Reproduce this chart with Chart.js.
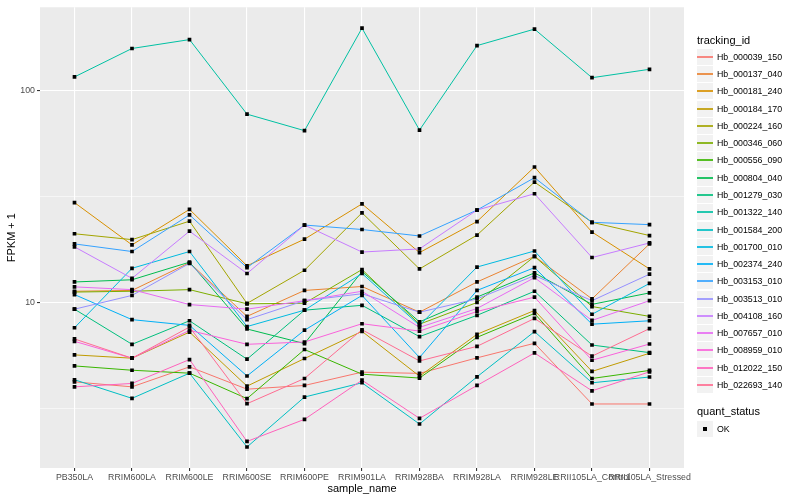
<!DOCTYPE html>
<html>
<head>
<meta charset="utf-8">
<script src="https://cdn.jsdelivr.net/npm/chart.js@4.4.1/dist/chart.umd.min.js"></script>
<style>
  html, body { margin: 0; padding: 0; background: #fff; }
  #wrap { position: relative; width: 800px; height: 500px; font-family: "Liberation Sans", Arial, sans-serif; }
  #chart { position: absolute; left: 0; top: 0; }
  .lg-title { position: absolute; font-size: 11px; color: #000; line-height: 13px; white-space: nowrap; }
  .lg-key { position: absolute; width: 16px; height: 16px; background: #F2F2F2; }
  .lg-line { position: absolute; left: 0; right: 0; top: 7px; height: 2px; opacity: 0.85; }
  .lg-dot { position: absolute; left: 6px; top: 6px; width: 4px; height: 4px; background: #000; }
  .lg-text { position: absolute; font-size: 8.8px; color: #000; line-height: 10px; white-space: nowrap; }
</style>
</head>
<body>
<div id="wrap">
  <canvas id="chart" width="800" height="500"></canvas>
  <div id="legend"></div>
</div>
<script>
'use strict';

// ---------------------------------------------------------------------------
// Data (FPKM + 1)
// ---------------------------------------------------------------------------
const samples = ['PB350LA', 'RRIM600LA', 'RRIM600LE', 'RRIM600SE', 'RRIM600PE', 'RRIM901LA',
  'RRIM928BA', 'RRIM928LA', 'RRIM928LE', 'RRII105LA_Control', 'RRII105LA_Stressed'];

const trackingIds = ['Hb_000039_150', 'Hb_000137_040', 'Hb_000181_240', 'Hb_000184_170',
  'Hb_000224_160', 'Hb_000346_060', 'Hb_000556_090', 'Hb_000804_040', 'Hb_001279_030',
  'Hb_001322_140', 'Hb_001584_200', 'Hb_001700_010', 'Hb_002374_240', 'Hb_003153_010',
  'Hb_003513_010', 'Hb_004108_160', 'Hb_007657_010', 'Hb_008959_010', 'Hb_012022_150',
  'Hb_022693_140'];

// ggplot hue palette, 20 levels
const colours = ['#F8766D', '#EA8331', '#D89000', '#C09B00', '#A3A500', '#7CAE00', '#39B600',
  '#00BB4E', '#00BF7D', '#00C1A3', '#00BFC4', '#00BAE0', '#00B0F6', '#35A2FF', '#9590FF',
  '#C77CFF', '#E76BF3', '#FA62DB', '#FF62BC', '#FF6C91'];

const hb000039_150 = [4.22, 4.00, 4.97, 3.90, 4.06, 4.69, 4.63, 5.48, 6.42, 3.32, 3.32];
const hb000137_040 = [11.3, 11.4, 15.4, 8.6, 11.4, 11.9, 9.0, 12.5, 16.5, 10.4, 18.9];
const hb000181_240 = [29.6, 18.7, 27.5, 14.9, 19.9, 29.2, 17.2, 24.1, 43.6, 21.5, 14.4];
const hb000184_170 = [5.66, 5.46, 7.25, 4.03, 5.44, 7.31, 4.49, 7.08, 9.17, 4.73, 5.76];
const hb000224_160 = [21.1, 19.8, 24.2, 9.9, 14.2, 26.5, 14.4, 20.8, 37.0, 23.9, 20.7];
const hb000346_060 = [11.2, 11.3, 11.5, 9.86, 9.92, 14.3, 7.9, 10.0, 16.5, 9.57, 8.6];
const hb000556_090 = [5.02, 4.79, 4.64, 3.52, 6.00, 4.59, 4.40, 6.85, 8.88, 4.38, 4.78];
const hb000804_040 = [12.5, 12.8, 15.5, 7.5, 6.4, 14.0, 8.1, 10.6, 13.8, 9.8, 11.1];
const hb001279_030 = [9.3, 6.35, 8.2, 5.4, 9.2, 9.7, 6.9, 8.7, 11.3, 6.3, 5.8];
const hb001322_140 = [116, 158, 174, 77.4, 64.7, 197, 65.1, 163, 195, 115, 126];
const hb001584_200 = [4.32, 3.53, 4.64, 2.08, 3.58, 4.18, 2.67, 4.46, 7.29, 4.18, 4.45];
const hb001700_010 = [7.6, 14.5, 17.4, 7.7, 9.2, 13.7, 7.8, 14.7, 17.5, 8.8, 12.3];
const hb002374_240 = [10.9, 8.3, 7.8, 4.5, 7.4, 10.8, 5.5, 11.4, 14.6, 7.9, 8.2];
const hb003153_010 = [18.9, 17.4, 25.9, 14.6, 23.2, 22.1, 20.6, 27.3, 38.8, 23.9, 23.3];
const hb003513_010 = [9.3, 10.8, 15.3, 8.3, 10.2, 11.0, 9.0, 10.4, 13.4, 10.2, 13.6];
const hb004108_160 = [18.3, 13.0, 21.7, 13.7, 23.2, 17.3, 17.9, 27.3, 32.6, 16.3, 19.1];
const hb007657_010 = [11.85, 11.5, 9.78, 9.3, 10.2, 11.3, 7.63, 9.37, 13.1, 8.23, 10.2];
const hb008959_010 = [6.56, 5.46, 7.39, 6.35, 6.51, 7.94, 7.33, 9.07, 10.6, 5.34, 6.37];
const hb012022_150 = [4.0, 4.15, 5.38, 2.21, 2.81, 4.30, 2.84, 4.06, 5.78, 3.83, 4.71];
const hb022693_140 = [6.73, 5.46, 7.66, 3.33, 4.38, 7.44, 5.30, 6.21, 8.41, 5.58, 7.53];

const series = [hb000039_150, hb000137_040, hb000181_240, hb000184_170, hb000224_160,
  hb000346_060, hb000556_090, hb000804_040, hb001279_030, hb001322_140, hb001584_200,
  hb001700_010, hb002374_240, hb003153_010, hb003513_010, hb004108_160, hb007657_010,
  hb008959_010, hb012022_150, hb022693_140];

// y breaks: majors labelled, minors (log midpoints) only as grid
const yBreaks = [3.1623, 10, 31.623, 100];
const yBreakLabels = ['', '10', '', '100'];
const yMajor = [10, 100];

// ---------------------------------------------------------------------------
// Chart
// ---------------------------------------------------------------------------
Chart.defaults.font.family = '"Liberation Sans", Arial, sans-serif';
Chart.defaults.color = '#4D4D4D';

const panelBg = {
  id: 'panelBg',
  beforeDraw(chart) {
    const { ctx, chartArea: a } = chart;
    ctx.save();
    ctx.fillStyle = '#EBEBEB';
    ctx.fillRect(a.left, a.top, a.right - a.left, a.bottom - a.top);
    ctx.restore();
  },
};

const toPoints = vals => vals.map((v, i) => ({ x: i, y: v }));

const lineSets = series.map((vals, k) => ({
  label: trackingIds[k],
  data: toPoints(vals),
  borderColor: colours[k],
  borderWidth: 1,
  pointRadius: 0,
  fill: false,
  tension: 0,
  order: 100 - k,   // first id drawn first, like ggplot
}));

const pointSets = series.map((vals, k) => ({
  label: trackingIds[k] + ' OK',
  data: toPoints(vals),
  showLine: false,
  pointStyle: 'rect',
  pointRadius: 2.6,
  pointBackgroundColor: '#000',
  pointBorderWidth: 0,
  order: 0,
}));

new Chart(document.getElementById('chart'), {
  type: 'line',
  data: { datasets: [...lineSets, ...pointSets] },
  options: {
    responsive: false,
    animation: false,
    layout: { padding: { top: 5, right: 116, bottom: 0, left: 0 } },
    plugins: { legend: { display: false }, tooltip: { enabled: false } },
    scales: {
      x: {
        type: 'linear',
        min: -0.6,
        max: 10.6,
        afterBuildTicks: s => { s.ticks = samples.map((_, i) => ({ value: i })); },
        afterFit: s => { s.height = 32; },
        ticks: {
          callback: v => samples[v],
          autoSkip: false, maxRotation: 0, minRotation: 0,
          font: { size: 8.8 }, color: '#4D4D4D', padding: 1,
        },
        grid: { color: '#FFFFFF', lineWidth: 1.1, tickLength: 3, tickColor: '#333333' },
        border: { display: false },
        title: { display: true, text: 'sample_name', color: '#000', font: { size: 11 }, padding: { top: 0, bottom: 4 } },
      },
      y: {
        type: 'logarithmic',
        min: 1.656,
        max: 247.2,
        afterBuildTicks: s => { s.ticks = yBreaks.map(v => ({ value: v })); },
        afterFit: s => { s.width = 40; },
        ticks: {
          callback: (v, i) => yBreakLabels[i],
          font: { size: 8.8 }, color: '#4D4D4D', padding: 2,
        },
        grid: {
          color: '#FFFFFF',
          lineWidth: c => (c.tick && yMajor.includes(c.tick.value) ? 1.1 : 0.55),
          tickLength: 3,
          tickColor: c => (c.tick && yMajor.includes(c.tick.value) ? '#333333' : 'rgba(0,0,0,0)'),
        },
        border: { display: false },
        title: { display: true, text: 'FPKM + 1', color: '#000', font: { size: 11 }, padding: { top: 5, bottom: 0 } },
      },
    },
  },
  plugins: [panelBg],
});

// ---------------------------------------------------------------------------
// Legend (ggplot style, on the right)
// ---------------------------------------------------------------------------
function buildLegend() {
  const box = document.getElementById('legend');
  const KEY = 17.28;
  const left = 697;
  let html = `<div class="lg-title" style="left:${left}px;top:34px">tracking_id</div>`;
  trackingIds.forEach((id, k) => {
    const top = Math.round(48.7 + k * KEY);
    html += `<div class="lg-key" style="left:${left}px;top:${top}px">
               <div class="lg-line" style="background:${colours[k]}"></div></div>
             <div class="lg-text" style="left:${left + 20}px;top:${top + 3}px">${id}</div>`;
  });
  html += `<div class="lg-title" style="left:${left}px;top:405px">quant_status</div>`;
  html += `<div class="lg-key" style="left:${left}px;top:421px"><div class="lg-dot"></div></div>
           <div class="lg-text" style="left:${left + 20}px;top:424px">OK</div>`;
  box.innerHTML = html;
}

buildLegend();
</script>
</body>
</html>
